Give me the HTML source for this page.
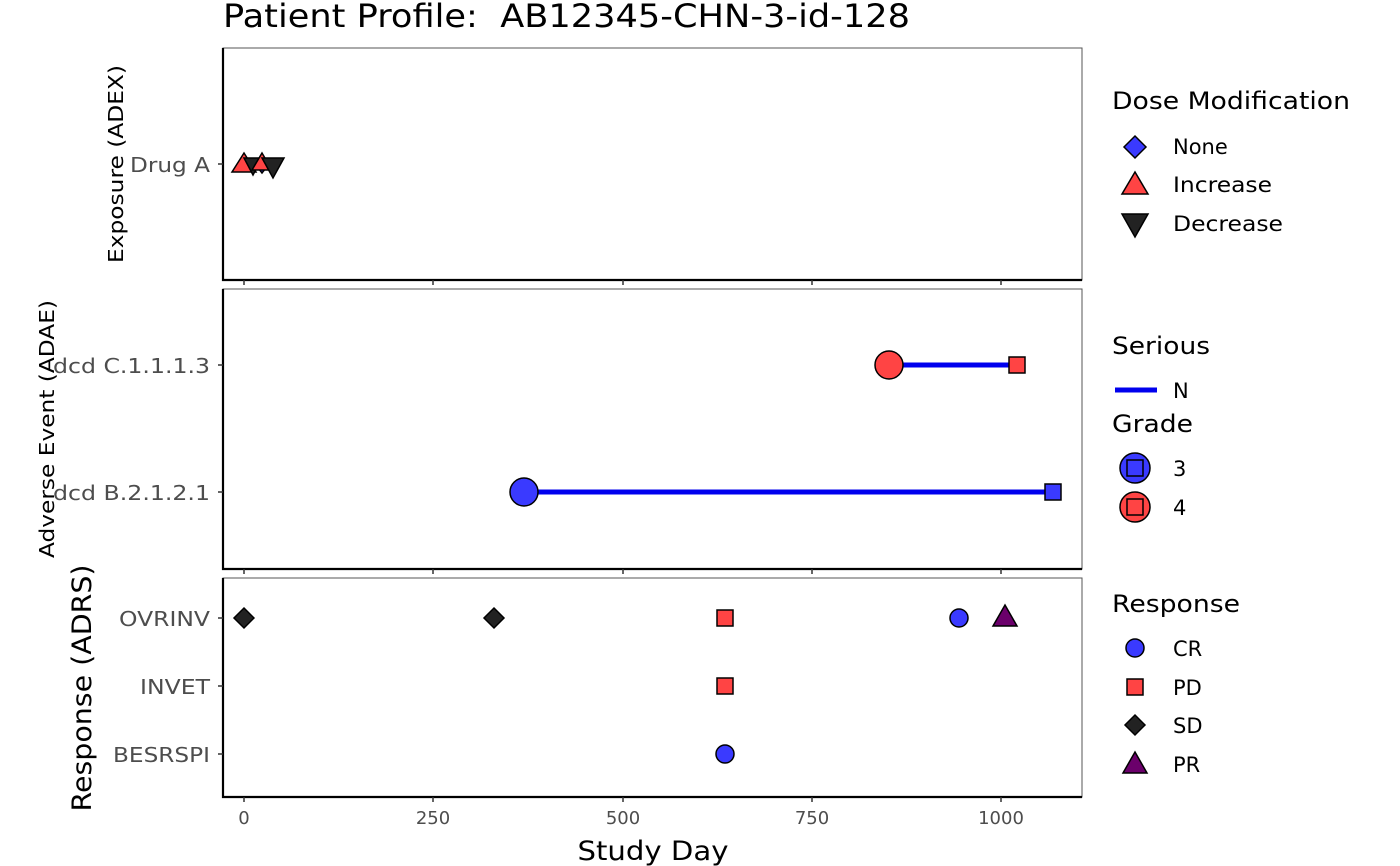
<!DOCTYPE html>
<html><head><style>html,body{margin:0;padding:0;background:#fff}svg{display:block}</style></head><body>
<svg width="1400" height="866" xmlns="http://www.w3.org/2000/svg" font-family="DejaVu Sans, Liberation Sans, sans-serif">
<rect width="1400" height="866" fill="#fff"/>
<text x="223" y="27" font-size="32" fill="#000" textLength="687" lengthAdjust="spacingAndGlyphs" xml:space="preserve">Patient Profile:  AB12345-CHN-3-id-128</text>
<g fill="none" stroke="#555" stroke-width="1">
<rect x="223" y="48" width="859" height="232"/>
<rect x="223" y="289" width="859" height="280"/>
<rect x="223" y="578" width="859" height="219"/>
</g>
<g stroke="#000" stroke-width="2.2" fill="none">
<path d="M223 48V280H1082M223 289V569H1082M223 578V797H1082"/>
</g>
<g stroke="#333" stroke-width="1.5">
<path d="M244 280v5M433 280v5M623 280v5M812 280v5M1001 280v5"/>
<path d="M244 569v5M433 569v5M623 569v5M812 569v5M1001 569v5"/>
<path d="M244 797v5M433 797v5M623 797v5M812 797v5M1001 797v5"/>
<path d="M218 164h5M218 365h5M218 492h5M218 618h5M218 686h5M218 754h5"/>
</g>
<g font-size="20" fill="#4d4d4d" text-anchor="end">
<text x="210" y="172" textLength="80" lengthAdjust="spacingAndGlyphs">Drug A</text>
<text x="210" y="373" textLength="157" lengthAdjust="spacingAndGlyphs">dcd C.1.1.1.3</text>
<text x="210" y="500" textLength="157" lengthAdjust="spacingAndGlyphs">dcd B.2.1.2.1</text>
<text x="210" y="626" textLength="91" lengthAdjust="spacingAndGlyphs">OVRINV</text>
<text x="210" y="694" textLength="70" lengthAdjust="spacingAndGlyphs">INVET</text>
<text x="210" y="762" textLength="97" lengthAdjust="spacingAndGlyphs">BESRSPI</text>
</g>
<g font-size="18" fill="#4d4d4d" text-anchor="middle">
<text x="244" y="824">0</text><text x="433" y="824">250</text><text x="623" y="824">500</text><text x="812" y="824">750</text><text x="1001" y="824">1000</text>
</g>
<text x="653" y="860" font-size="27" text-anchor="middle" textLength="151" lengthAdjust="spacingAndGlyphs">Study Day</text>
<text transform="translate(123,164) rotate(-90)" font-size="20" text-anchor="middle" textLength="198" lengthAdjust="spacingAndGlyphs">Exposure (ADEX)</text>
<text transform="translate(54,429) rotate(-90)" font-size="20" text-anchor="middle" textLength="258" lengthAdjust="spacingAndGlyphs">Adverse Event (ADAE)</text>
<text transform="translate(91,688) rotate(-90)" font-size="27" text-anchor="middle" textLength="247" lengthAdjust="spacingAndGlyphs">Response (ADRS)</text>
<!-- exposure -->
<g stroke="#000" stroke-width="1.5">
<polygon points="262,155 269,164 262,173 255,164" fill="#3a3aff"/>
<polygon points="244,153 256,172 232,172" fill="#ff4444"/>
<polygon points="244,158 262,158 253,175" fill="#222"/>
<polygon points="262,153 272,170 252,170" fill="#ff4444"/>
<polygon points="262,158 284,158 273,178" fill="#222"/>
</g>
<!-- AE -->
<g stroke="#0000ee" stroke-width="5"><path d="M889 365H1017M524 492H1053"/></g>
<g stroke="#000" stroke-width="1.5">
<circle cx="889" cy="365" r="14" fill="#ff4444"/>
<rect x="1009" y="357" width="16" height="16" fill="#ff4444"/>
<circle cx="524" cy="492" r="14" fill="#3a3aff"/>
<rect x="1045" y="484" width="16" height="16" fill="#3a3aff"/>
<polygon points="244,608 254,618 244,628 234,618" fill="#222"/>
<polygon points="494,608 504,618 494,628 484,618" fill="#222"/>
<rect x="717" y="610" width="16" height="16" fill="#ff4444"/>
<circle cx="959" cy="618" r="9" fill="#3a3aff"/>
<polygon points="1005,605 1017,626 993,626" fill="#6b006b"/>
<rect x="717" y="678" width="16" height="16" fill="#ff4444"/>
<circle cx="725" cy="754" r="9" fill="#3a3aff"/>
</g>
<!-- legends -->
<g font-size="24" fill="#000">
<text x="1112" y="109" textLength="238" lengthAdjust="spacingAndGlyphs">Dose Modification</text>
<text x="1112" y="354" textLength="98" lengthAdjust="spacingAndGlyphs">Serious</text>
<text x="1112" y="432" textLength="81" lengthAdjust="spacingAndGlyphs">Grade</text>
<text x="1112" y="612" textLength="128" lengthAdjust="spacingAndGlyphs">Response</text>
</g>
<g font-size="21" fill="#000">
<text x="1173" y="154">None</text><text x="1173" y="192" textLength="99" lengthAdjust="spacingAndGlyphs">Increase</text><text x="1173" y="231" textLength="110" lengthAdjust="spacingAndGlyphs">Decrease</text>
<text x="1173" y="398">N</text>
<text x="1173" y="476">3</text><text x="1173" y="515">4</text>
<text x="1173" y="656">CR</text><text x="1173" y="695">PD</text><text x="1173" y="733">SD</text><text x="1173" y="772">PR</text>
</g>
<g stroke="#000" stroke-width="1.5">
<polygon points="1135,136 1146,147 1135,158 1124,147" fill="#3a3aff"/>
<polygon points="1135,172 1148,194 1122,194" fill="#ff4444"/>
<polygon points="1122,214 1148,214 1135,237" fill="#222"/>
<circle cx="1135" cy="468" r="15" fill="#3a3aff"/><rect x="1127" y="460" width="16" height="16" fill="#3a3aff"/>
<circle cx="1135" cy="507" r="15" fill="#ff4444"/><rect x="1127" y="499" width="16" height="16" fill="#ff4444"/>
<circle cx="1135" cy="648" r="9" fill="#3a3aff"/>
<rect x="1127" y="679" width="16" height="16" fill="#ff4444"/>
<polygon points="1135,715 1145,725 1135,735 1125,725" fill="#222"/>
<polygon points="1135,752 1147,773 1123,773" fill="#6b006b"/>
</g>
<path d="M1115 390H1157" stroke="#0000ee" stroke-width="5"/>
</svg>
</body></html>
